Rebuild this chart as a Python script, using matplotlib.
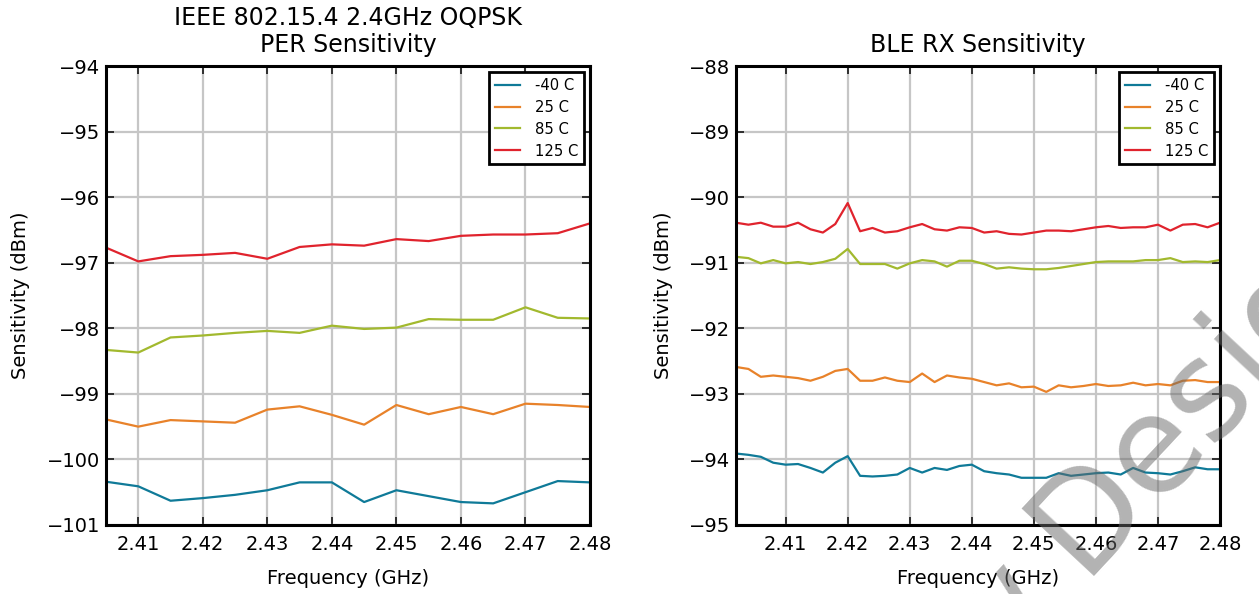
import numpy as np
import matplotlib
matplotlib.use("Agg")
import matplotlib.pyplot as plt

# ---------------- data ----------------
labels = ["-40 C", "25 C", "85 C", "125 C"]
colors = ["#0f7a98", "#e8822a", "#a2b92e", "#e0232d"]

freq_154 = [2.405, 2.410, 2.415, 2.420, 2.425, 2.430, 2.435, 2.440,
            2.445, 2.450, 2.455, 2.460, 2.465, 2.470, 2.475, 2.480]
per_m40 = [-100.34, -100.41, -100.63, -100.59, -100.54, -100.47, -100.35, -100.35,
           -100.65, -100.47, -100.56, -100.65, -100.67, -100.50, -100.33, -100.35]
per_25 = [-99.39, -99.50, -99.40, -99.42, -99.44, -99.24, -99.19, -99.32,
          -99.47, -99.17, -99.31, -99.20, -99.31, -99.15, -99.17, -99.20]
per_85 = [-98.33, -98.37, -98.14, -98.11, -98.07, -98.04, -98.07, -97.96,
          -98.01, -97.99, -97.86, -97.87, -97.87, -97.68, -97.84, -97.85]
per_125 = [-96.77, -96.98, -96.90, -96.88, -96.85, -96.94, -96.76, -96.72,
           -96.74, -96.64, -96.67, -96.59, -96.57, -96.57, -96.55, -96.40]

freq_ble = [2.402, 2.404, 2.406, 2.408, 2.410, 2.412, 2.414, 2.416, 2.418, 2.420,
            2.422, 2.424, 2.426, 2.428, 2.430, 2.432, 2.434, 2.436, 2.438, 2.440,
            2.442, 2.444, 2.446, 2.448, 2.450, 2.452, 2.454, 2.456, 2.458, 2.460,
            2.462, 2.464, 2.466, 2.468, 2.470, 2.472, 2.474, 2.476, 2.478, 2.480]
ble_m40 = [-93.91, -93.93, -93.96, -94.05, -94.08, -94.07, -94.13, -94.20, -94.05, -93.95,
           -94.25, -94.26, -94.25, -94.23, -94.13, -94.20, -94.13, -94.16, -94.10, -94.08,
           -94.18, -94.21, -94.23, -94.28, -94.28, -94.28, -94.21, -94.25, -94.23, -94.21,
           -94.20, -94.23, -94.13, -94.20, -94.21, -94.23, -94.18, -94.12, -94.15, -94.15]
ble_25 = [-92.59, -92.62, -92.74, -92.72, -92.74, -92.76, -92.80, -92.74, -92.65, -92.62,
          -92.80, -92.80, -92.75, -92.80, -92.82, -92.69, -92.82, -92.72, -92.75, -92.77,
          -92.82, -92.87, -92.84, -92.90, -92.89, -92.97, -92.87, -92.90, -92.88, -92.85,
          -92.88, -92.87, -92.83, -92.87, -92.85, -92.87, -92.80, -92.79, -92.82, -92.82]
ble_85 = [-90.91, -90.93, -91.01, -90.96, -91.01, -90.99, -91.02, -90.99, -90.94, -90.79,
          -91.02, -91.02, -91.02, -91.09, -91.01, -90.96, -90.98, -91.06, -90.97, -90.97,
          -91.02, -91.09, -91.07, -91.09, -91.10, -91.10, -91.08, -91.05, -91.02, -90.99,
          -90.98, -90.98, -90.98, -90.96, -90.96, -90.93, -90.99, -90.98, -90.99, -90.96]
ble_125 = [-90.39, -90.42, -90.39, -90.45, -90.45, -90.39, -90.49, -90.54, -90.41, -90.09,
           -90.52, -90.47, -90.54, -90.52, -90.46, -90.41, -90.49, -90.51, -90.46, -90.47,
           -90.54, -90.52, -90.56, -90.57, -90.54, -90.51, -90.51, -90.52, -90.49, -90.46,
           -90.44, -90.47, -90.46, -90.46, -90.42, -90.51, -90.42, -90.41, -90.46, -90.39]

xticks = [2.41, 2.42, 2.43, 2.44, 2.45, 2.46, 2.47, 2.48]

# ---------------- style ----------------
plt.rcParams['font.family'] = ['DejaVu Sans']
plt.rcParams['xtick.direction'] = 'in'
plt.rcParams['ytick.direction'] = 'in'

fig = plt.figure(figsize=(12.59, 5.94), dpi=100)
W, H = 1259, 594
ax1 = fig.add_axes([106 / W, 1 - 525 / H, (590 - 106) / W, (525 - 66) / H])
ax2 = fig.add_axes([736 / W, 1 - 525 / H, (1220 - 736) / W, (525 - 66) / H])


def style(ax, xlim, ylim, title):
    ax.set_xlim(*xlim)
    ax.set_ylim(*ylim)
    ax.set_xticks(xticks)
    ax.set_xticklabels(["%.2f" % t for t in xticks])
    ax.set_yticks(np.arange(ylim[0], ylim[1] + 0.5, 1))
    ax.grid(True, color='#c6c6c6', linewidth=1.6, linestyle='-')
    ax.set_axisbelow(True)
    for s in ax.spines.values():
        s.set_linewidth(2.2)
        s.set_color('black')
    ax.tick_params(axis='both', which='major', direction='in', length=6,
                   width=1.3, labelsize=14, top=True, right=True,
                   color='#222222')
    ax.tick_params(axis='x', pad=7)
    ax.tick_params(axis='y', pad=4)
    ax.set_xlabel("Frequency (GHz)", fontsize=14, labelpad=11)
    ax.set_ylabel("Sensitivity (dBm)", fontsize=14, labelpad=12)
    ax.set_title(title, fontsize=17, pad=10, linespacing=1.17)
    leg = ax.legend(loc='upper right', fontsize=10.6, fancybox=False, framealpha=1,
                    edgecolor='black', handlelength=1.7, borderpad=0.4,
                    labelspacing=0.47, handletextpad=1.0, borderaxespad=0.4)
    leg.get_frame().set_linewidth(2.0)


for ys, lab, c in zip([per_m40, per_25, per_85, per_125], labels, colors):
    ax1.plot(freq_154, ys, color=c, lw=1.6, label=lab)
for ys, lab, c in zip([ble_m40, ble_25, ble_85, ble_125], labels, colors):
    ax2.plot(freq_ble, ys, color=c, lw=1.6, label=lab)

style(ax1, (2.405, 2.48), (-101, -94), "IEEE 802.15.4 2.4GHz OQPSK\nPER Sensitivity")
style(ax2, (2.402, 2.48), (-95, -88), "BLE RX Sensitivity")

# watermark (rotated, partly outside the figure)
ang = np.deg2rad(47)
ux, uy = np.cos(ang), np.sin(ang)          # baseline direction (up = +y)
d0x, d0y = 1081.6, H - 575.9               # baseline start of "Design" in px
gap = 33
wm = dict(fontsize=97, rotation=47, rotation_mode='anchor', va='baseline',
          color='#686868', alpha=0.5, zorder=10)
fig.text(d0x / W, d0y / H, "Design", ha='left', **wm)
fig.text((d0x - gap * ux) / W, (d0y - gap * uy) / H, "New", ha='right', **wm)

fig.savefig("out.png", dpi=100)
